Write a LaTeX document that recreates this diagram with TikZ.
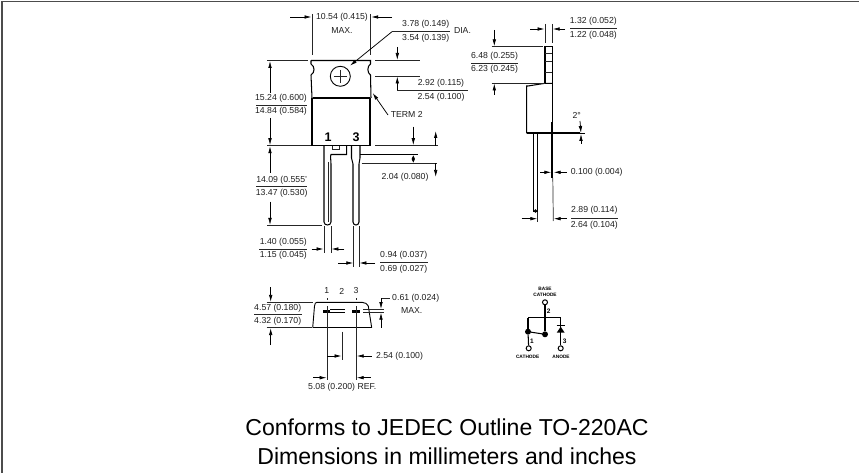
\documentclass[tikz,border=0pt]{standalone}
\usepackage{fontspec}
\setmainfont{Liberation Sans}
\usetikzlibrary{arrows.meta}
\tikzset{
  dimtext/.style={inner sep=0pt,font=\fontsize{8.7}{9}\selectfont,text=black!88},
  boldnum/.style={inner sep=0pt,font=\fontsize{12.5}{13}\selectfont\bfseries},
  smalltext/.style={inner sep=0pt,font=\fontsize{4.8}{5}\selectfont\bfseries},
  schemnum/.style={inner sep=0pt,font=\fontsize{6.5}{7}\selectfont\bfseries},
  captiontext/.style={inner sep=0pt,anchor=base,font=\fontsize{23.05}{25}\selectfont},
  thin line/.style={line width=0.7pt,black!85},
  outline/.style={line width=1.05pt,black},
  heavy/.style={line width=1.8pt,black},
  dimarrow/.style={line width=0.75pt,black,-{Latex[length=7pt,width=3.6pt]}},
  dimline/.style={line width=0.8pt,black!85},
  frameline/.style={line width=1.3pt,black!70},
  dot/.style={circle,fill=black,inner sep=0pt,minimum size=6pt},
  opencirc/.style={circle,draw=black,line width=1pt,fill=white,inner sep=0pt,minimum size=5pt}
}
\begin{document}
\begin{tikzpicture}[x=1pt,y=-1pt]
\useasboundingbox (0,0) rectangle (859,473);
% frame
\draw[frameline] (2,473) -- (2,1.5) -- (859,1.5);

% ---------- front view: tab and body
\draw[outline] (311,60.5) -- (370.5,60.5) -- (370.5,64)
  .. controls (367,66) and (367,73) .. (370.5,75) -- (371,98)
  (311,60.5) -- (311,64) .. controls (315,66) and (315,73) .. (311,75) -- (312,98);
\draw[heavy] (313,98) -- (370,98);
\draw[outline] (312,98) -- (312,145.7) -- (370,145.7) -- (370,98);
\draw[line width=1.8pt] (312.5,98) -- (312.5,122) (369.5,98) -- (369.5,122);
\node[circle,draw=black,line width=0.9pt,minimum size=20pt,inner sep=0pt] (hole) at (340.3,76.3) {};
\draw[thin line] (333.5,76.3) -- (347,76.3) (340.3,70) -- (340.3,83);
\node[boldnum] (num1) at (328,137) {1};
\node[boldnum] (num3) at (356,137) {3};

% pins
\draw[outline] (324,146) -- (324,222) .. controls (324,226) and (331,226) .. (331,222) -- (331,164)
  .. controls (331,160) and (330,156) .. (331,154.5) -- (346.7,154.5) -- (346.7,146);
\draw[thin line] (328.5,162) -- (328.5,222);
\draw[outline] (351.5,146) -- (351.5,158) -- (353,164) -- (353,222) .. controls (353,226) and (359,226) .. (359,222) -- (359,164) -- (360,158) -- (360,146);
\draw[thin line] (332,146) -- (332,149.5) -- (339,149.5) -- (339,146);

% 10.54 dim
\draw[thin line] (312,14) -- (312,55) (370.7,14) -- (370.7,55);
\draw[dimarrow] (290,17) -- (311.5,17);
\draw[dimarrow] (392,17) -- (371.2,17);
\node[dimtext] (a1) at (342,17) {10.54 (0.415)};
\node[dimtext] (a2) at (342,30.5) {MAX.};

% hole leader
\draw[dimline] (392,31.7) -- (450,31.7);
\draw[dimarrow] (392,31.7) -- (350,65.7);
\node[dimtext] (b1) at (425.7,24) {3.78 (0.149)};
\node[dimtext] (b2) at (425.7,38) {3.54 (0.139)};
\node[dimtext] (b3) at (462.5,31) {DIA.};

% 2.92 dim
\draw[thin line] (375,60.5) -- (420,60.5) (375,76) -- (420,76);
\draw[dimarrow] (397.3,47) -- (397.3,60);
\draw[dimarrow] (397.3,90) -- (397.3,76.5);
\draw[dimline] (397.3,90) -- (468,90);
\node[dimtext] (c1) at (441,83.3) {2.92 (0.115)};
\node[dimtext] (c2) at (441,97.3) {2.54 (0.100)};

% 15.24 dim
\draw[thin line] (267,60.5) -- (308,60.5) (267,145.7) -- (311,145.7);
\draw[dimarrow] (270,93) -- (270,61);
\draw[dimarrow] (270,118) -- (270,145.2);
\draw[dimline] (256,105) -- (307,105);
\node[dimtext] (d1) at (281,98.3) {15.24 (0.600)};
\node[dimtext] (d2) at (281,111.7) {14.84 (0.584)};

% 14.09 dim
\draw[dimarrow] (270,173) -- (270,146.2);
\draw[dimarrow] (270,201.7) -- (270,225);
\draw[thin line] (267,225.7) -- (321.7,225.7);
\draw[dimline] (256,186.7) -- (307,186.7);
\node[dimtext] (e1) at (281.7,180) {14.09 (0.555'};
\node[dimtext] (e2) at (281.7,193.3) {13.47 (0.530)};

% TERM 2
\draw[dimarrow] (388,115) -- (372.7,93);
\node[dimtext] (f1) at (406.7,114) {TERM 2};

% 2.04 dim
\draw[thin line] (375,145.7) -- (438,145.7) (361.7,163.3) -- (436.7,163.3);
\draw[line width=1.1pt] (360,154.5) -- (417.7,154.5);
\draw[dimarrow] (413.3,126.7) -- (413.3,145.2);
\draw[dimarrow] (435.7,145.7) -- (435.7,131);
\draw[line width=0.75pt,{Latex[length=4pt,width=3.6pt]}-{Latex[length=4pt,width=3.6pt]}] (413.3,155) -- (413.3,163);
\draw[dimarrow] (435.7,163.3) -- (435.7,177);
\node[dimtext] (g1) at (405,177.3) {2.04 (0.080)};

% 1.40 dim
\draw[thin line] (324,226) -- (324,252.7) (331,226) -- (331,252.7);
\draw[dimarrow] (311.7,249) -- (323.6,249);
\draw[dimarrow] (344.3,249) -- (331.4,249);
\draw[dimline] (259.3,249) -- (306.7,249);
\node[dimtext] (h1) at (283.3,242) {1.40 (0.055)};
\node[dimtext] (h2) at (283.3,255.7) {1.15 (0.045)};

% 0.94 dim
\draw[thin line] (353.7,226) -- (353.7,266.7) (359,226) -- (359,266.7);
\draw[dimarrow] (338.3,263) -- (353.3,263);
\draw[dimarrow] (375,263) -- (359.4,263);
\draw[dimline] (380,262.3) -- (427.7,262.3);
\node[dimtext] (i1) at (403.7,255.3) {0.94 (0.037)};
\node[dimtext] (i2) at (403.7,269) {0.69 (0.027)};

% ---------- side view
\draw[outline] (545,83.3) -- (545,46.7) -- (552.3,46.7) -- (552.3,121.7);
\draw[thin line] (545,53.3) -- (552.3,53.3) (545,61.7) -- (552.3,61.7) (545,72.7) -- (552.3,72.7);
\draw[outline] (545,83.3) -- (552.3,83.3) (545,83.3) -- (528,86) -- (526.7,86) -- (526.7,133.3);
\draw[heavy] (526.7,133.3) -- (580,133.3);
\draw[line width=0.7pt] (580,133.3) -- (585,133.3);
\draw[line width=2pt] (552.3,121.7) -- (552.3,133.3);
\draw[line width=2pt] (552.3,133.3) -- (552.3,178);
\draw[thin line] (552.8,178) -- (553.3,221);
\draw[outline] (533.3,133.3) -- (533.3,211.7) -- (537.7,211.7) -- (537.7,133.3);
\draw[line width=1.3pt] (537.2,133.3) -- (537.2,210);
\draw[thin line] (537.7,211.7) -- (537.7,221.7);
\fill (535.5,211) circle (1.8pt);
\node[dimtext] (j1) at (576.7,115) {2°};
\draw[dimarrow] (580,121) -- (581,133);
\draw[dimarrow] (581,144) -- (581,134);

% 6.48 dim
\draw[thin line] (491.7,46.7) -- (543,46.7) (491.7,83) -- (545,83);
\draw[dimarrow] (494.3,30) -- (494.3,46.3);
\draw[dimarrow] (494.3,95) -- (494.3,83.5);
\draw[dimline] (471,63.3) -- (518,63.3);
\node[dimtext] (k1) at (494.5,56) {6.48 (0.255)};
\node[dimtext] (k2) at (494.5,69.3) {6.23 (0.245)};

% 1.32 dim
\draw[thin line] (545,24) -- (545,43) (552.3,24) -- (552.3,43);
\draw[dimarrow] (530,29) -- (544.6,29);
\draw[dimarrow] (565,29) -- (552.7,29);
\draw[dimline] (570,28) -- (616.7,28);
\node[dimtext] (l1) at (593.3,21) {1.32 (0.052)};
\node[dimtext] (l2) at (593.3,35) {1.22 (0.048)};

% 0.100 dim
\draw[dimarrow] (540,172.3) -- (551.3,172.3);
\draw[dimarrow] (566.7,172.3) -- (553.7,172.3);
\node[dimtext] (m1) at (596.7,172.3) {0.100 (0.004)};

% 2.89 dim
\draw[dimarrow] (521.7,218.7) -- (537.3,218.7);
\draw[dimarrow] (566.7,218.7) -- (553.7,218.7);
\draw[dimline] (571,218.7) -- (617.7,218.7);
\node[dimtext] (n1) at (594.3,210.7) {2.89 (0.114)};
\node[dimtext] (n2) at (594.3,224.8) {2.64 (0.104)};

% ---------- end view
\draw[line width=0.9pt] (312.7,327.7) -- (314.5,306) .. controls (314.8,303.5) and (315.5,302.3) .. (317,302.3)
  -- (362,302.3) .. controls (365,302.3) and (367.5,304) .. (368.3,306) -- (371.7,327.7);
\draw[line width=1.4pt] (312.7,327.7) -- (371.7,327.7);
\draw[line width=3pt] (323.3,311) -- (330,311);
\draw[line width=1pt] (330,309.5) -- (345,309.5) (330,312.5) -- (345,312.5);
\draw[line width=3pt] (352.3,311) -- (360,311);
\draw[thin line] (266.7,302.3) -- (313,302.3) (266.7,327.7) -- (312,327.7);
\draw[dimarrow] (270.7,287.3) -- (270.7,301.9);
\draw[dimarrow] (270.7,345) -- (270.7,328.1);
\draw[dimline] (254,314.3) -- (301.7,314.3);
\node[dimtext] (o1) at (277.7,308.3) {4.57 (0.180)};
\node[dimtext] (o2) at (277.7,321.7) {4.32 (0.170)};
\node[dimtext] (p1) at (326.7,291) {1};
\node[dimtext] (p2) at (341.7,291) {2};
\node[dimtext] (p3) at (356,291) {3};
\draw[dimline] (327,298) -- (327,300) (327,306) -- (327,380) (342,331.7) -- (342,360) (356.3,298) -- (356.3,300) (356.3,306) -- (356.3,380);
\draw[thin line] (363.3,309.3) -- (384.3,309.3) (363.3,312.3) -- (384.3,312.3);
\draw[dimline] (381,298.3) -- (390,298.3);
\draw[dimarrow] (381,298.3) -- (381,309);
\draw[dimarrow] (381,327.7) -- (381,312.7);
\node[dimtext] (q1) at (415.7,298.3) {0.61 (0.024)};
\node[dimtext] (q2) at (411.7,310.7) {MAX.};
\draw[dimarrow] (327,356) -- (341.6,356);
\draw[dimarrow] (371.7,356) -- (356.7,356);
\node[dimtext] (r1) at (399.5,356) {2.54 (0.100)};
\draw[dimarrow] (313.3,377.7) -- (326.6,377.7);
\draw[dimarrow] (370.7,377.7) -- (356.7,377.7);
\node[dimtext] (s1) at (342.3,387.7) {5.08 (0.200) REF.};

% ---------- schematic
\node[smalltext] (t1) at (545,289) {BASE};
\node[smalltext] (t2) at (545,295.3) {CATHODE};
\node[opencirc] (base) at (545,302.3) {};
\node[dot] (dotR) at (545,334.3) {};
\node[dot] (dotL) at (528,331.7) {};
\node[opencirc] (cath) at (528.7,348.3) {};
\node[opencirc] (anode) at (560.7,348.3) {};
\coordinate (cornerL) at (528,317.7);
\coordinate (cornerR) at (560.7,317.7);
\draw[outline] (base) -- (dotR);
\draw[outline] (cornerL) -- (cornerR);
\draw[outline] (cornerL) -- (dotL);
\draw[outline] (dotL) -- (dotR);
\draw[outline] (dotL) -- (cath);
\draw[outline] (cornerR) -- (anode);
\fill (560.7,326.7) -- (564.7,332.7) -- (556.7,332.7) -- cycle;
\draw[outline] (556.7,325.9) -- (564.7,325.9);
\node[schemnum] (u2) at (548.7,311.7) {2};
\node[schemnum] (u1) at (532,341) {1};
\node[schemnum] (u3) at (564.7,341.7) {3};
\node[smalltext] (v1) at (527.7,356.7) {CATHODE};
\node[smalltext] (v2) at (561,356.7) {ANODE};

% ---------- caption
\node[captiontext] (cap1) at (447,435) {Conforms to JEDEC Outline TO-220AC};
\node[captiontext] (cap2) at (447,464) {Dimensions in millimeters and inches};
\end{tikzpicture}
\end{document}
